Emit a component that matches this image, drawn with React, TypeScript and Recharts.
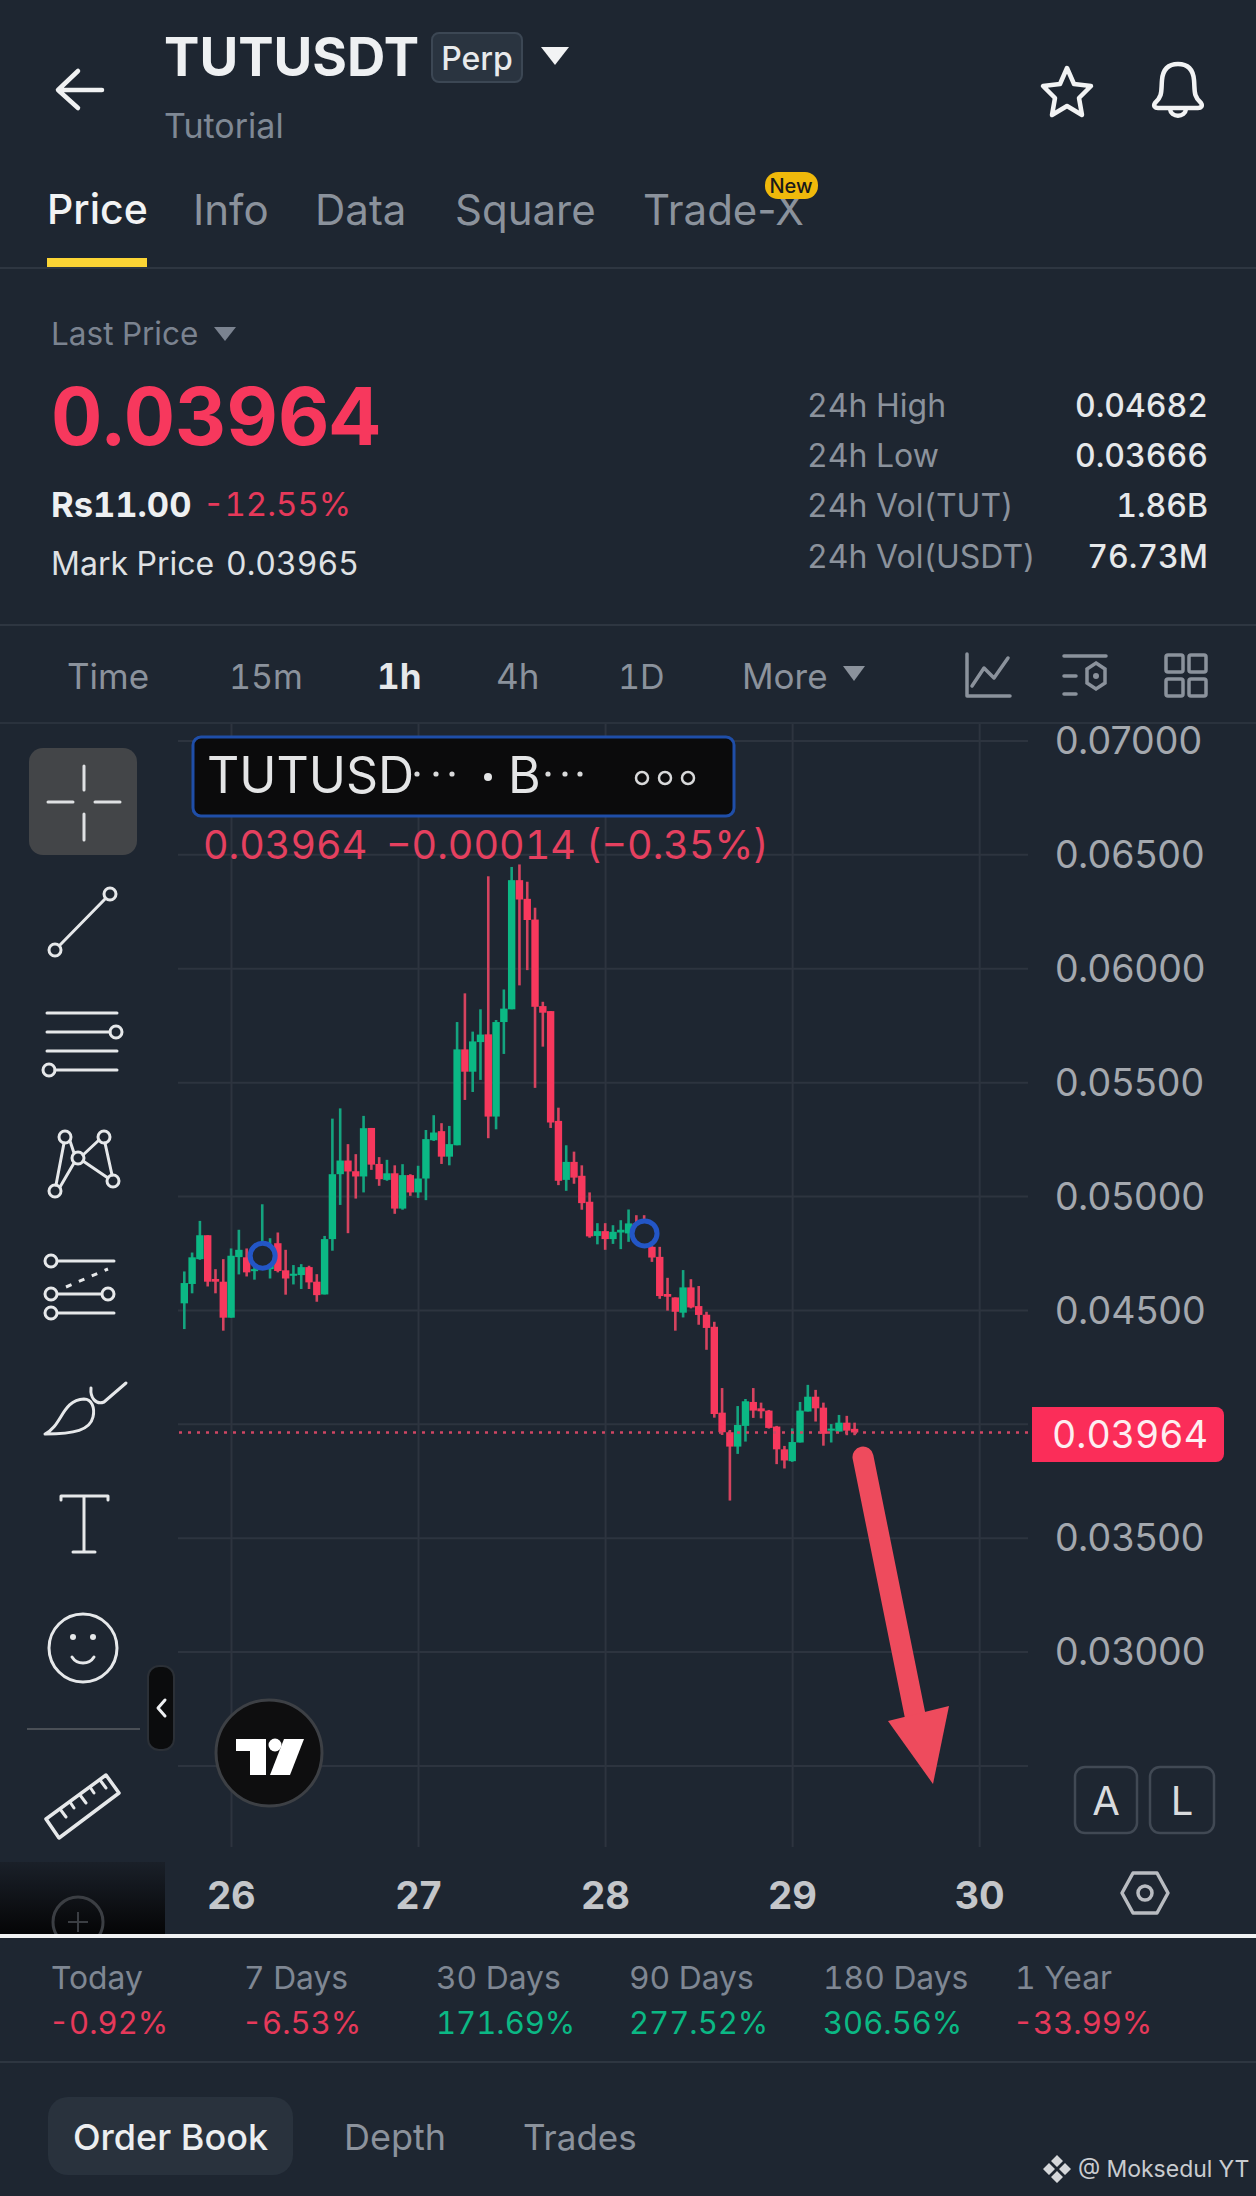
import React from "react";
import { ComposedChart, Bar, XAxis, YAxis, CartesianGrid, ReferenceLine, ReferenceDot } from "recharts";

const opens = [0.04531,0.04616,0.04725,0.04830,0.04638,0.04626,0.04468,0.04734,0.04733,0.04673,0.04725,0.04681,0.04795,0.04676,0.04652,0.04655,0.04690,0.04626,0.04570,0.04813,0.05098,0.05158,0.05111,0.05088,0.05301,0.05143,0.05073,0.05102,0.04947,0.05094,0.05018,0.05079,0.05247,0.05287,0.05175,0.05225,0.05646,0.05548,0.05678,0.05712,0.05351,0.05766,0.05822,0.06389,0.06307,0.06216,0.05836,0.05814,0.05332,0.05073,0.05152,0.05091,0.04977,0.04827,0.04848,0.04813,0.04842,0.04838,0.04882,0.04845,0.04779,0.04735,0.04572,0.04557,0.04490,0.04601,0.04519,0.04481,0.04428,0.04051,0.03965,0.03902,0.03993,0.04098,0.04070,0.04060,0.03990,0.03890,0.03838,0.03920,0.04056,0.04121,0.04073,0.03972,0.03968,0.04007,0.03980];
const highs = [0.04671,0.04754,0.04893,0.04830,0.04681,0.04725,0.04772,0.04854,0.04772,0.04711,0.04966,0.04817,0.04842,0.04766,0.04699,0.04703,0.04696,0.04659,0.04827,0.05342,0.05387,0.05230,0.05186,0.05354,0.05301,0.05173,0.05161,0.05137,0.05142,0.05098,0.05135,0.05292,0.05357,0.05322,0.05310,0.05766,0.05892,0.05724,0.05822,0.06406,0.05775,0.05909,0.06447,0.06458,0.06382,0.06268,0.05855,0.05814,0.05390,0.05225,0.05197,0.05137,0.05018,0.04883,0.04883,0.04874,0.04896,0.04943,0.04918,0.04918,0.04782,0.04779,0.04643,0.04557,0.04677,0.04637,0.04607,0.04494,0.04450,0.04159,0.03975,0.04080,0.04111,0.04159,0.04095,0.04063,0.03993,0.03905,0.03982,0.04098,0.04173,0.04151,0.04095,0.04001,0.04041,0.04037,0.04007];
const lows = [0.04418,0.04575,0.04722,0.04605,0.04575,0.04411,0.04468,0.04658,0.04649,0.04635,0.04703,0.04640,0.04667,0.04569,0.04614,0.04594,0.04594,0.04538,0.04570,0.04762,0.04963,0.04839,0.04991,0.05018,0.05117,0.05047,0.05069,0.04924,0.04942,0.05003,0.04994,0.04984,0.05244,0.05143,0.05137,0.05225,0.05424,0.05459,0.05512,0.05256,0.05295,0.05626,0.05822,0.05927,0.05994,0.05477,0.05658,0.05301,0.05050,0.05025,0.05056,0.04942,0.04819,0.04790,0.04766,0.04792,0.04769,0.04801,0.04830,0.04787,0.04713,0.04551,0.04499,0.04411,0.04469,0.04509,0.04437,0.04327,0.04029,0.03953,0.03665,0.03870,0.03924,0.04028,0.04026,0.03981,0.03825,0.03806,0.03835,0.03920,0.04056,0.04012,0.03906,0.03920,0.03968,0.03952,0.03952];
const closes = [0.04620,0.04733,0.04830,0.04626,0.04626,0.04468,0.04740,0.04766,0.04667,0.04681,0.04754,0.04740,0.04673,0.04640,0.04661,0.04690,0.04623,0.04567,0.04813,0.05098,0.05158,0.05110,0.05088,0.05300,0.05140,0.05076,0.05102,0.04947,0.05094,0.05018,0.05079,0.05252,0.05281,0.05175,0.05230,0.05646,0.05548,0.05681,0.05711,0.05351,0.05766,0.05825,0.06389,0.06304,0.06214,0.05833,0.05807,0.05325,0.05069,0.05152,0.05083,0.04971,0.04825,0.04848,0.04813,0.04845,0.04854,0.04882,0.04845,0.04801,0.04732,0.04563,0.04560,0.04494,0.04601,0.04513,0.04480,0.04423,0.04045,0.03965,0.03902,0.03997,0.04101,0.04060,0.04057,0.03984,0.03890,0.03841,0.03922,0.04060,0.04121,0.04070,0.03958,0.03981,0.04007,0.03972,0.03964];

const priceTicks = [0.025,0.03,0.035,0.04,0.045,0.05,0.055,0.06,0.065,0.07];
const hiddenPriceLabels = [0.025,0.04];
const dayTicks = [0,24,48,72,96];
const dayLabels = ["26","27","28","29","30"];
const markerPoints = [{ hour: 4, price: 0.0474 }, { hour: 53, price: 0.04838 }];
const lastPrice = 0.03964;
const statLabels = ["Today","7 Days","30 Days","90 Days","180 Days","1 Year"];
const statValues = ["-0.92%","-6.53%","171.69%","277.52%","306.56%","-33.99%"];
const summaryLabels = ["24h High","24h Low","24h Vol(TUT)","24h Vol(USDT)"];
const summaryValues = ["0.04682","0.03666","1.86B","76.73M"];

const candles = opens.map((open, i) => ({ hour: i - 6, open, high: highs[i], low: lows[i], close: closes[i] }));

const BG = "#1e2631";
const RED = "#f7385d";
const GREEN = "#0bb884";
const FONT = "Inter, 'Noto Sans', sans-serif";

const Candle = (props: any) => {
  const { x, y, width, height, payload } = props;
  const span = payload.high - payload.low;
  const h = Math.abs(height);
  const perUnit = span > 0 ? h / span : 0;
  const up = payload.close >= payload.open;
  const top = y + (payload.high - Math.max(payload.open, payload.close)) * perUnit;
  const bodyH = Math.max(Math.abs(payload.close - payload.open) * perUnit, 2);
  const cx = x + width / 2;
  return (
    <g>
      <rect x={cx - 1.3} y={y} width={2.6} height={h} fill={up ? "#14a47f" : "#d6435f"} />
      <rect x={cx - 3.7} y={top} width={7.4} height={bodyH} fill={up ? GREEN : RED} />
    </g>
  );
};

const T = ({ x, y, s, c, w = 400, a = "start", plain = false, children }: any) => (
  <text x={x} y={y} fontSize={s} fill={c} fontWeight={w} textAnchor={a} dominantBaseline="central" fontFamily={FONT} style={plain ? undefined : { fontFeatureSettings: "'tnum'" }}>{children}</text>
);

const ICON = "#e6e8ea";
const GRAY = "#8b929c";
const statX = [51, 244, 436, 629, 823, 1015];
const statValX = [49, 242, 436, 629, 823, 1013];
const statCol = ["#e6395a", "#e6395a", "#0bb884", "#0bb884", "#0bb884", "#e6395a"];
const rowY = [405, 455, 505, 556];

const Ring = ({ x, y, r = 6, c = ICON, w = 3 }: any) => <circle cx={x} cy={y} r={r} fill="none" stroke={c} strokeWidth={w} />;
const L = ({ d, c = ICON, w = 3 }: any) => <path d={d} fill="none" stroke={c} strokeWidth={w} strokeLinecap="round" strokeLinejoin="round" />;

const Overlay = () => (
  <svg width={1256} height={2196} style={{ position: "absolute", left: 0, top: 0, pointerEvents: "none" }}>
    <defs>
      <linearGradient id="mag" x1="0" y1="0" x2="0" y2="1">
        <stop offset="0" stopColor="#1a2029" />
        <stop offset="1" stopColor="#050506" />
      </linearGradient>
    </defs>

    {/* header */}
    <L d="M59 90H102M78 71L58 90L78 108" c="#f0f1f2" w={4.5} />
    <T x={164} y={57} s={53} w={700} c="#eef0f2">TUTUSDT</T>
    <rect x={432} y={33} width={90} height={49} rx={7} fill="#2a3440" stroke="#3c4754" strokeWidth={2} />
    <T x={477} y={58} s={32} w={500} c="#e8eaec" a="middle">Perp</T>
    <path d="M541 47H569L555 65Z" fill="#f2f3f4" />
    <T x={164} y={125} s={34} c="#7f8894">Tutorial</T>
    <path d="M1067 68L1074 84L1091 86L1079 98L1082 115L1067 106L1052 115L1055 98L1043 86L1060 84Z" fill="none" stroke="#f2f3f4" strokeWidth={4.5} strokeLinejoin="round" />
    <L d="M1155 103C1163 96 1161 90 1162 80C1163 68 1170 64 1178 64C1186 64 1193 68 1194 80C1195 90 1193 96 1201 103C1203 106 1201 108 1198 108H1158C1155 108 1153 106 1155 103ZM1170 109C1171 118 1185 118 1186 109" c="#f2f3f4" w={4.5} />

    {/* tabs */}
    <T x={47} y={209} s={41} w={500} c="#f2f3f4">Price</T>
    <T x={193} y={209} s={42} c={GRAY}>Info</T>
    <T x={315} y={209} s={42} c={GRAY}>Data</T>
    <T x={455} y={209} s={42} c={GRAY}>Square</T>
    <T x={643} y={209} s={42} c={GRAY} plain>Trade-X</T>
    <rect x={765} y={172} width={53} height={27} rx={13} fill="#f0b90b" />
    <T x={791} y={186} s={20} w={500} c="#1a1a1a" a="middle">New</T>
    <rect x={47} y={258} width={100} height={9} fill="#fcd535" />
    <rect x={0} y={267} width={1256} height={2} fill="#2e3641" />

    {/* price block */}
    <T x={51} y={333} s={31.5} c="#7b8390">Last Price</T>
    <path d="M214 327H236L225 341Z" fill="#7b8390" />
    <T x={51} y={416} s={79.5} w={700} c={RED}>0.03964</T>
    <T x={51} y={504} s={34.5} w={700} c="#eef0f2">Rs11.00</T>
    <T x={203} y={504} s={33} c="#e6395a">-12.55%</T>
    <T x={51} y={563} s={32} c="#dfe1e4">Mark Price</T>
    <T x={226} y={563} s={32} c="#dfe1e4">0.03965</T>
    {summaryLabels.map((t, i) => <T key={t} x={807} y={rowY[i]} s={32} c={GRAY}>{t}</T>)}
    {summaryValues.map((t, i) => <T key={t} x={1208} y={rowY[i]} s={32} w={500} c="#e6e8ea" a="end">{t}</T>)}
    <rect x={0} y={624} width={1256} height={2} fill="#2e3641" />

    {/* timeframes */}
    <T x={67} y={676} s={35} c={GRAY}>Time</T>
    <T x={229} y={676} s={34} c={GRAY}>15m</T>
    <T x={377} y={676} s={35} w={700} c="#e6e8ea">1h</T>
    <T x={496} y={676} s={35} c={GRAY}>4h</T>
    <T x={618} y={676} s={34} c={GRAY}>1D</T>
    <T x={742} y={676} s={35} c={GRAY}>More</T>
    <path d="M843 666H865L854 681Z" fill={GRAY} />
    <L d="M967 654V696H1010M972 686L984 668L994 678L1008 658" c={GRAY} w={3.5} />
    <L d="M1064 656H1106M1064 676H1076M1064 694H1076" c={GRAY} w={3.5} />
    <path d="M1096 663L1105 669V683L1096 689L1087 683V669Z" fill="none" stroke={GRAY} strokeWidth={3.5} />
    <circle cx={1096} cy={676} r={3} fill={GRAY} />
    <rect x={1166} y={655} width={17} height={17} rx={2} fill="none" stroke={GRAY} strokeWidth={3.5} />
    <rect x={1189} y={655} width={17} height={17} rx={2} fill="none" stroke={GRAY} strokeWidth={3.5} />
    <rect x={1166} y={679} width={17} height={17} rx={2} fill="none" stroke={GRAY} strokeWidth={3.5} />
    <rect x={1189} y={679} width={17} height={17} rx={2} fill="none" stroke={GRAY} strokeWidth={3.5} />
    <rect x={0} y={722} width={1256} height={2} fill="#2a323d" />

    {/* toolbar */}
    <rect x={29} y={748} width={108} height={107} rx={14} fill="#434548" />
    <L d="M48 802H73M95 802H120M84 766V790M84 814V840" c="#dfe1e3" />
    <Ring x={55} y={950} /><Ring x={110} y={894} /><L d="M60 945L105 899" />
    <L d="M47 1013H117M47 1032H110M47 1051H117M55 1070H117" /><Ring x={116} y={1032} /><Ring x={49} y={1070} />
    <Ring x={65} y={1137} /><Ring x={104} y={1137} /><Ring x={55} y={1191} /><Ring x={113} y={1181} /><Ring x={78} y={1158} />
    <L d="M64 1143L56 1185M60 1187L74 1163M83 1161L108 1178M70 1141L74 1153M99 1140L83 1155M105 1143L112 1175" />
    <Ring x={51} y={1261} /><Ring x={51} y={1294} /><Ring x={51} y={1313} /><Ring x={108} y={1294} />
    <L d="M58 1261H114M58 1294H101M58 1313H114" /><path d="M66 1287L108 1269" stroke={ICON} strokeWidth={3} strokeDasharray="6 8" />
    <path d="M45 1434C62 1426 62 1400 84 1399C92 1399 95 1408 93 1417C90 1430 75 1434 45 1434Z" fill="none" stroke={ICON} strokeWidth={3} strokeLinejoin="round" />
    <L d="M91 1388C90 1398 96 1405 104 1402L126 1383" />
    <L d="M61 1500V1496H108V1500M84 1497V1552M73 1552H95" />
    <circle cx={83} cy={1648} r={34} fill="none" stroke={ICON} strokeWidth={3} />
    <circle cx={73} cy={1637} r={3} fill={ICON} /><circle cx={93} cy={1637} r={3} fill={ICON} />
    <L d="M72 1657C77 1665 89 1665 94 1657" />
    <rect x={27} y={1728} width={113} height={2} fill="#4a4f56" />
    <path d="M46 1819L106 1775L119 1793L59 1838Z" fill="none" stroke={ICON} strokeWidth={3.5} strokeLinejoin="round" />
    <L d="M60 1809L66 1817M70 1802L74 1808M80 1795L86 1803M90 1787L94 1793M100 1780L106 1788" />
    <rect x={0} y={1862} width={165} height={73} fill="url(#mag)" />
    <clipPath id="magClip"><rect x={0} y={1862} width={165} height={73} /></clipPath>
    <g clipPath="url(#magClip)">
      <circle cx={78} cy={1922} r={25} fill="none" stroke="#3b3e43" strokeWidth={3} />
      <path d="M78 1912V1932M68 1922H88" stroke="#3b3e43" strokeWidth={2} />
    </g>
    <rect x={148} y={1666} width={26} height={84} rx={11} fill="#0b0c0d" stroke="#2b3037" strokeWidth={2} />
    <L d="M165 1700L158 1708L165 1716" c="#eef0f2" />

    {/* logo */}
    <circle cx={269} cy={1753} r={53} fill="#0e0e0f" stroke="#3d4045" strokeWidth={3} />
    <path d="M236 1739H266V1775H250V1751H236Z" fill="#fff" />
    <circle cx={275} cy={1745} r={6.5} fill="#fff" />
    <path d="M284 1739H304L290 1775H270Z" fill="#fff" />

    {/* annotation arrow */}
    <line x1={863} y1={1457} x2={915} y2={1715} stroke="#ee4b5d" strokeWidth={21} strokeLinecap="round" />
    <path d="M888 1721L949 1706L933 1784Z" fill="#ee4b5d" />

    {/* symbol box */}
    <rect x={193} y={737} width={541} height={79} rx={8} fill="#0b0b0c" stroke="#1f4ea8" strokeWidth={3} />
    <T x={207} y={775} s={50} c="#e4e5e6">TUTUSD</T>
    {[417, 436, 452, 548, 565, 580].map(cx => <circle key={cx} cx={cx} cy={774} r={2.6} fill="#d8d9da" />)}
    <circle cx={488} cy={777} r={4} fill="#e4e5e6" />
    <T x={508} y={775} s={50} c="#e4e5e6">B</T>
    {[642, 665, 688].map(cx => <Ring key={cx} x={cx} y={778} r={6} c="#d8d9da" w={2.5} />)}
    <T x={203} y={845} s={39.5} c="#e5405f">0.03964</T>
    <T x={386} y={845} s={39.5} c="#e5405f">−0.00014</T>
    <T x={586} y={845} s={39.5} c="#e5405f">(−0.35%)</T>

    {/* price tag */}
    <path d="M1032 1407H1216A8 8 0 0 1 1224 1415V1454A8 8 0 0 1 1216 1462H1032Z" fill="#fb2d59" />
    <T x={1130} y={1434} s={37.5} c="#fdeef1" a="middle">0.03964</T>

    {/* A / L */}
    <rect x={1075} y={1767} width={62} height={66} rx={10} fill={BG} stroke="#414954" strokeWidth={2.5} />
    <rect x={1150} y={1767} width={64} height={66} rx={10} fill={BG} stroke="#414954" strokeWidth={2.5} />
    <T x={1106} y={1800} s={40} c="#d9dbde" a="middle">A</T>
    <T x={1182} y={1800} s={40} c="#d9dbde" a="middle">L</T>

    {/* hex */}
    <path d="M1133 1873H1157L1168 1893L1157 1913H1133L1122 1893Z" fill="none" stroke="#b9bcc1" strokeWidth={3.5} strokeLinejoin="round" />
    <circle cx={1145} cy={1893} r={7} fill="none" stroke="#b9bcc1" strokeWidth={3.5} />

    {/* divider & stats */}
    <rect x={0} y={1934} width={1256} height={4} fill="#f1f2f3" />
    {statLabels.map((t, i) => <T key={t} x={statX[i]} y={1977} s={31.8} c="#7f8793">{t}</T>)}
    {statValues.map((t, i) => <T key={t} x={statValX[i]} y={2022} s={31} c={statCol[i]}>{t}</T>)}
    <rect x={0} y={2061} width={1256} height={2} fill="#2e3641" />
    <rect x={48} y={2097} width={245} height={78} rx={20} fill="#29323d" />
    <T x={73} y={2137} s={36} w={500} c="#eceef0">Order Book</T>
    <T x={344} y={2137} s={36} c={GRAY}>Depth</T>
    <T x={523} y={2137} s={35} c={GRAY}>Trades</T>
    <path d="M1057 2155L1063 2161L1057 2167L1051 2161ZM1057 2171L1063 2177L1057 2183L1051 2177ZM1049 2163L1055 2169L1049 2175L1043 2169ZM1065 2163L1071 2169L1065 2175L1059 2169Z" fill="#d5d7da" />
    <T x={1078} y={2169} s={23} c="#c9ccd0">@ Moksedul YT</T>
  </svg>
);

export default function App() {
  return (
    <div style={{ position: "absolute", left: 0, top: 0, width: 1256, height: 2196, background: BG, overflow: "hidden" }}>
      <ComposedChart width={1256} height={1936} data={candles} margin={{ top: 723, right: 0, bottom: 0, left: 178 }}>
        <CartesianGrid stroke="#2d343f" strokeWidth={2} syncWithTicks horizontalValues={priceTicks} verticalValues={dayTicks} />
        <XAxis
          dataKey="hour"
          type="number"
          domain={[-6.86, 102.2]}
          ticks={dayTicks}
          interval={0}
          height={89}
          axisLine={false}
          tickLine={false}
          tickMargin={29}
          tickFormatter={(h: number) => dayLabels[dayTicks.indexOf(h)]}
          tick={{ fill: "#c4c6ca", fontSize: 38, fontWeight: 700, fontFamily: FONT }}
        />
        <YAxis
          orientation="right"
          type="number"
          domain={[0.02144, 0.07079]}
          ticks={priceTicks}
          interval={0}
          width={228}
          axisLine={false}
          tickLine={false}
          tickMargin={21}
          tickFormatter={(v: number) => (hiddenPriceLabels.includes(v) ? "" : v.toFixed(5))}
          tick={{ fill: "#a4a8ae", fontSize: 37.5, fontFamily: FONT, textAnchor: "start" }}
        />
        <ReferenceLine y={lastPrice} stroke="#cf4663" strokeWidth={2.6} strokeDasharray="3 6" />
        <Bar dataKey={(d: any) => [d.low, d.high]} barSize={8} shape={Candle} isAnimationActive={false} />
        {markerPoints.map(m => (
          <ReferenceDot key={m.hour} x={m.hour} y={m.price} r={12.5} fill={BG} stroke="#2356c6" strokeWidth={5} />
        ))}
      </ComposedChart>
      <Overlay />
    </div>
  );
}
